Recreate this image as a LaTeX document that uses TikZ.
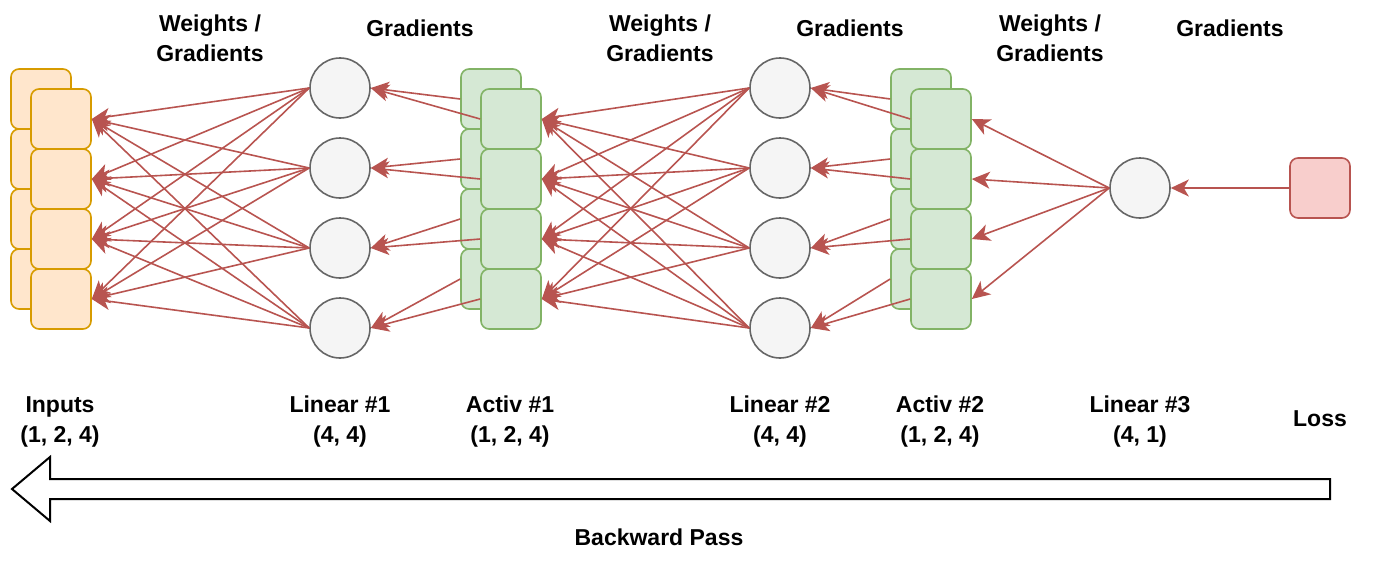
\documentclass[tikz,border=0pt]{standalone}
\usepackage{fontspec}
\setmainfont{Liberation Sans}
\usetikzlibrary{arrows.meta}
\definecolor{redS}{HTML}{B85450}
\definecolor{redF}{HTML}{F8CECC}
\definecolor{orgS}{HTML}{D79B00}
\definecolor{orgF}{HTML}{FFE6CC}
\definecolor{grnS}{HTML}{82B366}
\definecolor{grnF}{HTML}{D5E8D4}
\definecolor{gryS}{HTML}{666666}
\definecolor{gryF}{HTML}{F5F5F5}
\tikzset{
  sq/.style={rounded corners=8pt, minimum width=60pt, minimum height=60pt, inner sep=0pt, line width=1.6pt},
  inbox/.style={sq, draw=orgS, fill=orgF},
  acbox/.style={sq, draw=grnS, fill=grnF},
  lossbox/.style={sq, draw=redS, fill=redF},
  neuron/.style={circle, minimum size=60pt, inner sep=0pt, draw=gryS, fill=gryF, line width=1.6pt},
  conn/.style={draw=redS, line width=1.6pt, -{Stealth[length=18pt, width=17pt, inset=5pt]}},
  lab/.style={font=\bfseries\fontsize{23}{27}\selectfont, anchor=base, inner sep=0pt},
  bigarrow/.style={draw=black, line width=2pt, fill=white, line join=miter}
}
\begin{document}
\begin{tikzpicture}[x=1pt, y=-1pt]
\useasboundingbox (0,0) rectangle (1382,570);

% back boxes
\foreach \k in {0,...,3} {
  \node[inbox] (ib\k) at (41, 99+60*\k) {};
  \node[acbox] (ab\k) at (491, 99+60*\k) {};
  \node[acbox] (cb\k) at (921, 99+60*\k) {};
}
% front boxes
\foreach \k in {0,...,3} {
  \node[inbox] (if\k) at (61, 119+60*\k) {};
  \node[acbox] (af\k) at (511, 119+60*\k) {};
  \node[acbox] (cf\k) at (941, 119+60*\k) {};
}
% neurons
\foreach \k in {0,...,3} {
  \node[neuron] (la\k) at (340, 88+80*\k) {};
  \node[neuron] (lb\k) at (780, 88+80*\k) {};
}
\node[neuron] (lc) at (1140, 188) {};
\node[lossbox] (loss) at (1320, 188) {};

% connectors
\foreach \i in {0,...,3} {
  \foreach \j in {0,...,3} {
    \draw[conn] (la\i.west) -- (if\j.east);
    \draw[conn] (lb\i.west) -- (af\j.east);
  }
  \draw[conn] (ab\i.west) -- (la\i.east);
  \draw[conn] (af\i.west) -- (la\i.east);
  \draw[conn] (cb\i.west) -- (lb\i.east);
  \draw[conn] (cf\i.west) -- (lb\i.east);
  \draw[conn] (lc.west) -- (cf\i.east);
}
\draw[conn] (loss.west) -- (lc.east);

% top labels
\foreach \x in {210, 660, 1050} {
  \node[lab] at (\x, 31) {Weights /};
  \node[lab] at (\x, 61) {Gradients};
}
\foreach \x in {420, 850, 1230} {
  \node[lab] at (\x, 36) {Gradients};
}

% bottom labels
\node[lab] (t1) at (60, 412) {Inputs};
\node[lab] (t1b) at (60, 442) {(1, 2, 4)};
\node[lab] (t2) at (340, 412) {Linear \#1};
\node[lab] (t2b) at (340, 442) {(4, 4)};
\node[lab] (t3) at (510, 412) {Activ \#1};
\node[lab] (t3b) at (510, 442) {(1, 2, 4)};
\node[lab] (t4) at (780, 412) {Linear \#2};
\node[lab] (t4b) at (780, 442) {(4, 4)};
\node[lab] (t5) at (940, 412) {Activ \#2};
\node[lab] (t5b) at (940, 442) {(1, 2, 4)};
\node[lab] (t6) at (1140, 412) {Linear \#3};
\node[lab] (t6b) at (1140, 442) {(4, 1)};
\node[lab] (t7) at (1320, 426) {Loss};

% big backward arrow
\draw[bigarrow] (1330,479) -- (50,479) -- (50,457) -- (12,489) -- (50,521) -- (50,499) -- (1330,499) -- cycle;
\node[lab] (bp) at (659, 545) {Backward Pass};
\end{tikzpicture}
\end{document}
